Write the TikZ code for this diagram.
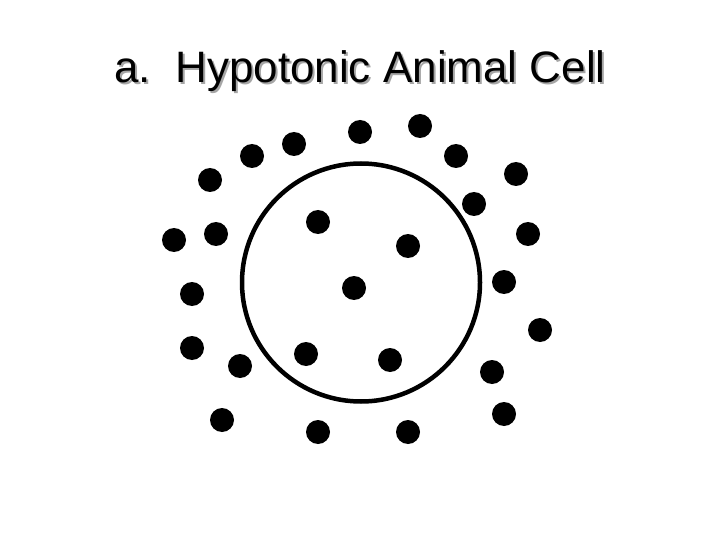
\documentclass[tikz,border=0pt]{standalone}
\usepackage{fontspec}
\setmainfont{Liberation Sans}
\tikzset{
  dot/.style={circle,fill=black,draw=none,minimum size=24pt,inner sep=0pt},
  cellwall/.style={circle,draw=black,line width=4.5pt,minimum size=238pt,inner sep=0pt},
  titletext/.style={font=\fontsize{44}{50}\selectfont,anchor=base,inner sep=0pt}
}
\begin{document}
\begin{tikzpicture}[x=1pt,y=-1pt]
\useasboundingbox (0,0) rectangle (720,540);
\fill[white] (0,0) rectangle (720,540);
\node[titletext,text=black!35] (shadow) at (362,85) {a.\ \ Hypotonic Animal Cell};
\node[titletext,text=black] (title) at (360,83) {a.\ \ Hypotonic Animal Cell};
\node[cellwall] (cell) at (361,282.5) {};
\foreach \n/\x/\y in {1/210/180,2/252/156,3/294/144,4/360/132,5/420/126,6/456/156,7/516/174,8/474/204,
  9/174/240,10/216/234,11/318/222,12/408/246,13/528/234,14/192/294,15/354/288,16/504/282,17/540/330,
  18/192/348,19/240/366,20/306/354,21/390/360,22/492/372,23/222/420,24/318/432,25/408/432,26/504/414}
  \node[dot] (d\n) at (\x,\y) {};
\end{tikzpicture}
\end{document}
